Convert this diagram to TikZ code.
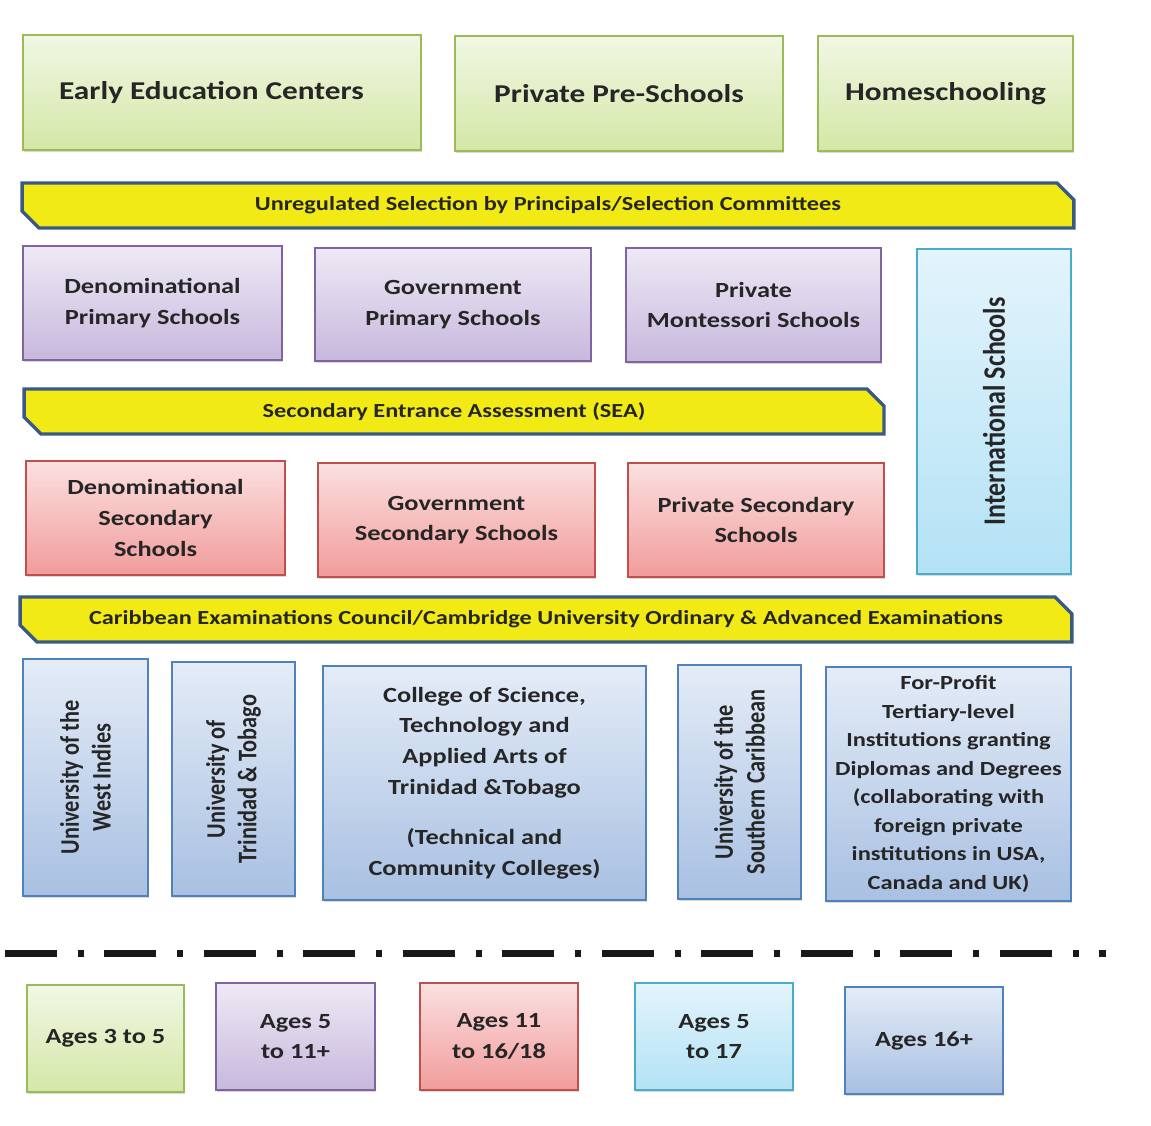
\documentclass[tikz,border=0pt]{standalone}
\usepackage{fontspec}
\setmainfont{Carlito}[FakeStretch=1.22]
\newfontfamily\uprightfont{Carlito}
\usetikzlibrary{positioning,shapes.misc,shadows}

\definecolor{grnline}{HTML}{9BBB59}
\definecolor{grntop}{HTML}{F1F7E4}
\definecolor{grnbot}{HTML}{D4E7A6}
\definecolor{purline}{HTML}{8064A2}
\definecolor{purtop}{HTML}{EEE9F5}
\definecolor{purbot}{HTML}{C7B8DD}
\definecolor{redline}{HTML}{C0504D}
\definecolor{redtop}{HTML}{FBE0E0}
\definecolor{redbot}{HTML}{F19C9B}
\definecolor{bluline}{HTML}{4F81BD}
\definecolor{blutop}{HTML}{E4ECF7}
\definecolor{blubot}{HTML}{A8C0E2}
\definecolor{cyanline}{HTML}{4BACC6}
\definecolor{cyantop}{HTML}{E3F4FC}
\definecolor{cyanbot}{HTML}{B3E2F5}
\definecolor{banfill}{HTML}{F2EA14}
\definecolor{banline}{HTML}{3A5A85}

\begin{document}
\begin{tikzpicture}[x=0.02cm, y=-0.02cm,
  every node/.style={font=\bfseries\fontsize{12.3}{17.5}\selectfont, text=black!85, align=center, inner sep=0pt, outer sep=0pt},
  box/.style={draw, line width=1.1pt, drop shadow={shadow xshift=0.7pt, shadow yshift=-0.9pt, opacity=0.3}},
  greenbox/.style={box, draw=grnline, top color=grntop, bottom color=grnbot},
  purplebox/.style={box, draw=purline, top color=purtop, bottom color=purbot},
  redbox/.style={box, draw=redline, top color=redtop, bottom color=redbot},
  bluebox/.style={box, draw=bluline, top color=blutop, bottom color=blubot},
  cyanbox/.style={box, draw=cyanline, top color=cyantop, bottom color=cyanbot},
  vbluebox/.style={bluebox, rotate=90, yscale=1.2, font=\uprightfont\bfseries\fontsize{12.7}{15}\selectfont},
  vcyanbox/.style={cyanbox, rotate=90, yscale=1.2, font=\uprightfont\bfseries\fontsize{14.8}{17}\selectfont},
  banner/.style={chamfered rectangle, chamfered rectangle corners={north east,south west},
    chamfered rectangle sep=0.17cm, draw=banline, line width=1.9pt, fill=banfill,
    minimum height=0.9cm, font=\bfseries\fontsize{11.35}{13}\selectfont},
  titletext/.style={font=\bfseries\fontsize{14.6}{17}\selectfont}]
\useasboundingbox (0,0) rectangle (1151,1125);

% pre-school
\node[greenbox, titletext, minimum width=7.96cm, minimum height=2.3cm] (eec) at (222,92.5) {Early Education Centers\hspace*{0.42cm}};
\node[greenbox, titletext, minimum width=6.56cm, minimum height=2.3cm] (pps) at (619,93.5) {Private Pre-Schools};
\node[greenbox, titletext, minimum width=5.1cm, minimum height=2.3cm] (home) at (945.5,93.5) {Homeschooling};

\node[banner, minimum width=21.04cm] (sel) at (548,205.5) {Unregulated Selection by Principals/Selection Committees};

% primary
\node[purplebox, minimum width=5.18cm, minimum height=2.28cm] (dps) at (152.5,303) {Denominational\\Primary Schools};
\node[purplebox, minimum width=5.52cm, minimum height=2.26cm] (gps) at (453,304.5) {Government\\Primary Schools};
\node[purplebox, minimum width=5.1cm, minimum height=2.28cm] (pms) at (753.5,305) {Private\\Montessori Schools};
\node[vcyanbox, minimum width=6.5cm, minimum height=2.567cm] (intl) at (994,411.5) {International Schools};

\node[banner, minimum width=17.2cm] (sea) at (454,411.5) {Secondary Entrance Assessment (SEA)};

% secondary
\node[redbox, minimum width=5.18cm, minimum height=2.28cm] (dss) at (155.5,518) {Denominational\\Secondary\\Schools};
\node[redbox, minimum width=5.54cm, minimum height=2.28cm] (gss) at (456.5,520) {Government\\Secondary Schools};
\node[redbox, minimum width=5.12cm, minimum height=2.28cm] (pss) at (756,520) {Private Secondary\\Schools};

\node[banner, minimum width=21.04cm] (cxc) at (546,619.5) {Caribbean Examinations Council/Cambridge University Ordinary \& Advanced Examinations};

% tertiary
\node[vbluebox, minimum width=4.74cm, minimum height=2.083cm] (uwi) at (85.5,777.5) {University of the\\West Indies};
\node[vbluebox, minimum width=4.68cm, minimum height=2.05cm] (utt) at (233.5,779) {University of\\Trinidad \& Tobago};
\node[bluebox, minimum width=6.46cm, minimum height=4.68cm] (cos) at (484.5,783) {College of Science,\\Technology and\\Applied Arts of\\Trinidad \&Tobago\\[0.9em](Technical and\\Community Colleges)};
\node[vbluebox, minimum width=4.68cm, minimum height=2.05cm] (usc) at (739.5,782) {University of the\\Southern Caribbean};
\node[bluebox, minimum width=4.9cm, minimum height=4.68cm, font=\bfseries\fontsize{11.4}{16.2}\selectfont] (fpi) at (948.5,784) {For-Profit\\Tertiary-level\\Institutions granting\\Diplomas and Degrees\\(collaborating with\\foreign private\\institutions in USA,\\Canada and UK)};

\draw[line width=4pt, black!90, dash pattern=on 1.04cm off 0.42cm on 0.12cm off 0.41cm] (5,953) -- (1106,953);

% ages
\node[greenbox, minimum width=3.14cm, minimum height=2.14cm] (age1) at (105.5,1038.5) {Ages 3 to 5};
\node[purplebox, minimum width=3.18cm, minimum height=2.14cm] (age2) at (295.5,1036.5) {Ages 5\\to 11+};
\node[redbox, minimum width=3.16cm, minimum height=2.14cm] (age3) at (499,1036.5) {Ages 11\\to 16/18};
\node[cyanbox, minimum width=3.16cm, minimum height=2.14cm] (age4) at (714,1036.5) {Ages 5\\to 17};
\node[bluebox, minimum width=3.16cm, minimum height=2.14cm] (age5) at (924,1040.5) {Ages 16+};
\end{tikzpicture}
\end{document}
